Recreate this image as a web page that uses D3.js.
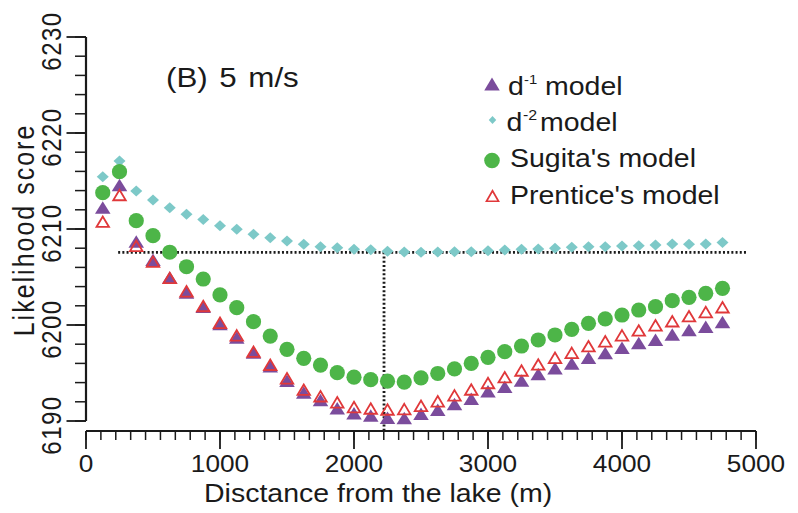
<!DOCTYPE html>
<html>
<head>
<meta charset="utf-8">
<script src="https://cdn.jsdelivr.net/npm/d3@7"></script>
<style>
  html, body { margin: 0; padding: 0; background: #fff; }
  svg { display: block; font-family: "Liberation Sans", Arial, sans-serif; }
</style>
</head>
<body>
<svg id="chart" width="798" height="513"></svg>
<script>
// Distance from the lake (m) for every modelled point
const distances = [125, 250, 375, 500, 625, 750, 875, 1000, 1125, 1250, 1375, 1500, 1625, 1750,
  1875, 2000, 2125, 2250, 2375, 2500, 2625, 2750, 2875, 3000, 3125, 3250, 3375, 3500, 3625,
  3750, 3875, 4000, 4125, 4250, 4375, 4500, 4625, 4750];

// Likelihood scores per dispersal model
const dInv1 = [6212.24, 6214.58, 6208.70, 6206.80, 6204.95, 6203.39, 6201.91, 6200.10, 6198.70,
  6197.14, 6195.70, 6194.19, 6192.97, 6192.19, 6191.33, 6190.80, 6190.57, 6190.35, 6190.31,
  6190.75, 6191.18, 6191.77, 6192.31, 6193.10, 6193.57, 6194.22, 6194.90, 6195.49, 6196.00,
  6196.58, 6197.08, 6197.62, 6198.12, 6198.47, 6199.01, 6199.48, 6199.82, 6200.31];
const dInv2 = [6215.45, 6217.08, 6213.96, 6213.02, 6212.22, 6211.53, 6211.00, 6210.34, 6209.97,
  6209.45, 6209.10, 6208.75, 6208.40, 6208.16, 6208.05, 6207.88, 6207.85, 6207.68, 6207.60,
  6207.57, 6207.60, 6207.64, 6207.64, 6207.74, 6207.81, 6207.88, 6207.92, 6207.99, 6208.09,
  6208.16, 6208.16, 6208.23, 6208.26, 6208.33, 6208.44, 6208.40, 6208.44, 6208.59];
const sugita = [6213.78, 6215.97, 6210.87, 6209.30, 6207.58, 6206.07, 6204.79, 6203.13, 6201.80,
  6200.35, 6198.85, 6197.47, 6196.53, 6195.83, 6195.03, 6194.56, 6194.30, 6194.15, 6194.05,
  6194.50, 6194.95, 6195.42, 6196.00, 6196.63, 6197.22, 6197.81, 6198.44, 6198.96, 6199.55,
  6200.17, 6200.63, 6201.04, 6201.56, 6201.91, 6202.53, 6202.88, 6203.30, 6203.82];
const prentice = [6210.76, 6213.54, 6208.25, 6206.60, 6204.90, 6203.51, 6201.98, 6200.23, 6198.92,
  6197.22, 6195.86, 6194.45, 6193.26, 6192.58, 6191.95, 6191.45, 6191.30, 6191.20, 6191.24,
  6191.58, 6192.05, 6192.67, 6193.28, 6193.96, 6194.56, 6195.26, 6195.89, 6196.58, 6197.10,
  6197.79, 6198.30, 6198.92, 6199.43, 6199.97, 6200.39, 6200.92, 6201.35, 6201.85];

// Reference lines: minimum of the d-2 curve and the distance it marks
const refScore = 6207.57;
const refDistance = 2224;
const refSpan = [240, 4940];

// Axis ticks
const xMajorTicks = [0, 1000, 2000, 3000, 4000, 5000];
const yMajorTicks = [6190, 6200, 6210, 6220, 6230];

const title = "(B) 5 m/s";
const xTitle = "Disctance from the lake (m)";
const yTitle = "Likelihood score";

const svg = d3.select("#chart");
const sx = 1.14; // horizontal glyph stretch used by all labels

const x = d3.scaleLinear().domain([0, 5000]).range([86, 756]);
const y = d3.scaleLinear().domain([6190, 6230]).range([421, 37]);

const ink = "#1a1a1a";
const colors = { d1: "#7b4c9c", d2: "#7dc9c8", su: "#4db548", pr: "#e0383a" };

// stretched text helper
function label(g, px, py, str, size, opts = {}) {
  const t = g.append("g")
    .attr("transform", `translate(${px},${py}) scale(${opts.sx ?? sx},1)` + (opts.rotate ? ` rotate(${opts.rotate})` : ""))
    .append("text")
    .attr("font-size", size)
    .attr("fill", ink)
    .attr("text-anchor", opts.anchor || "start")
    .text(str);
  if (opts.ls) t.attr("letter-spacing", opts.ls);
  if (opts.ws) t.attr("word-spacing", opts.ws);
  return t;
}

// ---- axes ----
const xMinor = d3.range(0, 5000.01, 1000 / 9);
const yMinor = d3.range(6190, 6230.01, 2);

const xAxisY = 431;
const axes = svg.append("g");
axes.append("line").attr("x1", x(0)).attr("x2", x(5000)).attr("y1", xAxisY).attr("y2", xAxisY)
  .attr("stroke", ink).attr("stroke-width", 2.2);
axes.selectAll(".xminor").data(xMinor).join("line")
  .attr("x1", d => x(d)).attr("x2", d => x(d))
  .attr("y1", xAxisY).attr("y2", xAxisY + 9)
  .attr("stroke", ink).attr("stroke-width", 1.5);
axes.selectAll(".xmajor").data(xMajorTicks).join("line")
  .attr("x1", d => x(d)).attr("x2", d => x(d))
  .attr("y1", xAxisY).attr("y2", xAxisY + 18)
  .attr("stroke", ink).attr("stroke-width", 1.8);
xMajorTicks.forEach(d => label(axes, x(d), 471.5, d, 23, { anchor: "middle" }));

axes.append("line").attr("x1", 86).attr("x2", 86).attr("y1", y(6230)).attr("y2", y(6190))
  .attr("stroke", ink).attr("stroke-width", 2.2);
axes.selectAll(".yminor").data(yMinor).join("line")
  .attr("x1", 86).attr("x2", 75)
  .attr("y1", d => y(d)).attr("y2", d => y(d))
  .attr("stroke", ink).attr("stroke-width", 1.5);
axes.selectAll(".ymajor").data(yMajorTicks).join("line")
  .attr("x1", 86).attr("x2", 66.5)
  .attr("y1", d => y(d)).attr("y2", d => y(d))
  .attr("stroke", ink).attr("stroke-width", 1.8);
yMajorTicks.forEach(d => label(axes, 60.5, y(d) + 4, d, 24, { anchor: "middle", rotate: -90, sx: 1.12, ls: 1.5 }));

label(axes, 204, 501.5, xTitle, 25, {});
label(axes, 33.5, 230, yTitle, 25, { anchor: "middle", rotate: -90, sx: 1.18, ls: 2 });

label(svg, 166, 87, title, 27.5, { ws: 2.5 });

// ---- reference lines ----
const ref = svg.append("g").attr("stroke", ink).attr("stroke-width", 2.8)
  .attr("stroke-dasharray", "2,2.2").attr("fill", "none");
ref.append("line").attr("x1", x(refSpan[0])).attr("x2", x(refSpan[1]))
  .attr("y1", y(refScore)).attr("y2", y(refScore));
ref.append("line").attr("x1", x(refDistance)).attr("x2", x(refDistance))
  .attr("y1", y(refScore)).attr("y2", y(6189));

// ---- markers ----
const tri = (w, h) => `M0,${-h / 2}L${w / 2},${h / 2}L${-w / 2},${h / 2}Z`;
const diamond = (w, h) => `M0,${-h / 2}L${w / 2},0L0,${h / 2}L${-w / 2},0Z`;

const rows = distances.map((d, i) => ({ d, d1: dInv1[i], d2: dInv2[i], su: sugita[i], pr: prentice[i] }));

svg.append("g").selectAll("path").data(rows).join("path")
  .attr("d", diamond(12, 11))
  .attr("transform", r => `translate(${x(r.d)},${y(r.d2)})`)
  .attr("fill", colors.d2);

svg.append("g").selectAll("circle").data(rows).join("circle")
  .attr("cx", r => x(r.d)).attr("cy", r => y(r.su)).attr("r", 7.6)
  .attr("fill", colors.su);

svg.append("g").selectAll("path").data(rows).join("path")
  .attr("d", tri(15.5, 12.5))
  .attr("transform", r => `translate(${x(r.d)},${y(r.d1)})`)
  .attr("fill", colors.d1);

svg.append("g").selectAll("path").data(rows).join("path")
  .attr("d", tri(12.5, 10.5))
  .attr("transform", r => `translate(${x(r.d)},${y(r.pr)})`)
  .attr("fill", "none").attr("stroke", colors.pr).attr("stroke-width", 1.8)
  .attr("stroke-linejoin", "miter");

// ---- legend ----
const lg = svg.append("g");
lg.append("path").attr("d", tri(15.5, 13)).attr("transform", "translate(492,84)").attr("fill", colors.d1);
label(lg, 508, 95, "d", 25, {});
label(lg, 524, 84, "-1", 13, {});
label(lg, 545, 95, "model", 25, {});

lg.append("path").attr("d", diamond(7.5, 8)).attr("transform", "translate(492.5,120)").attr("fill", colors.d2);
label(lg, 506.5, 131, "d", 25, {});
label(lg, 523, 120, "-2", 14, {});
label(lg, 540, 131, "model", 25, {});

lg.append("circle").attr("cx", 492).attr("cy", 160.5).attr("r", 7.8).attr("fill", colors.su);
label(lg, 510, 167, "Sugita's model", 25, {});

lg.append("path").attr("d", tri(12, 10.5)).attr("transform", "translate(492.5,196)")
  .attr("fill", "none").attr("stroke", colors.pr).attr("stroke-width", 1.7);
label(lg, 510, 204, "Prentice's model", 25, {});
</script>
</body>
</html>
